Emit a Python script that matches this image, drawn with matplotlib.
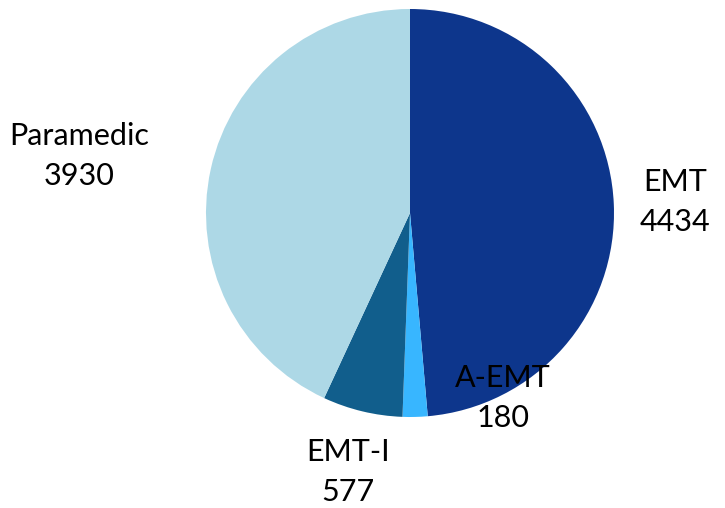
import matplotlib.pyplot as plt

labels = ["EMT", "A-EMT", "EMT-I", "Paramedic"]
counts = [4434, 180, 577, 3930]
colors = ["#0d368c", "#38b6ff", "#115e8c", "#add8e6"]

# label spots in radius units (center of the two-line label)
label_pos = [(1.30, 0.054), (0.456, -0.907), (-0.304, -1.27), (-1.62, 0.28)]

plt.rcParams['font.family'] = ['Lato', 'DejaVu Sans']

fig = plt.figure(figsize=(7.25, 5.08), dpi=100)
cx, cy, r = 410, 213, 204
ax = fig.add_axes([(cx - r) / 725, (508 - cy - r) / 508, 2 * r / 725, 2 * r / 508])

ax.pie(counts, colors=colors, startangle=90, counterclock=False,
       wedgeprops=dict(linewidth=0))
ax.set_xlim(-1, 1)
ax.set_ylim(-1, 1)
ax.set_aspect("equal")
ax.axis("off")

for lab, n, (x, y) in zip(labels, counts, label_pos):
    ax.text(x, y, f"{lab}\n{n}", ha="center", va="center", fontsize=22,
            linespacing=1.5, clip_on=False)

fig.savefig("out.png", dpi=100)
